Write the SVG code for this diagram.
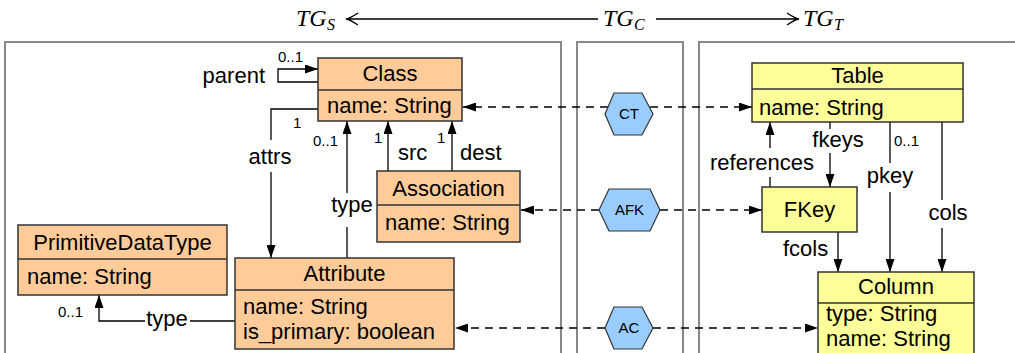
<svg xmlns="http://www.w3.org/2000/svg" width="1015" height="353" viewBox="0 0 1015 353">
<style>
text{font-family:"Liberation Sans",Arial,sans-serif;fill:#000}
.t{font-size:22px}
.s{font-size:15px}
.m{font-family:"Liberation Serif","Times New Roman",serif;font-style:italic;font-size:24px}
.ms{font-family:"Liberation Serif","Times New Roman",serif;font-style:italic;font-size:16px}
.c{text-anchor:middle}
.panel{fill:none;stroke:#888;stroke-width:2}
.src{fill:#FFCC99;stroke:#333;stroke-width:1.5}
.tgt{fill:#FFFF99;stroke:#333;stroke-width:1.5}
.hex{fill:#99CCFF;stroke:#333;stroke-width:1.2}
.ln{fill:none;stroke:#000;stroke-width:1.3}
.ds{fill:none;stroke:#000;stroke-width:1.3;stroke-dasharray:8,6}
</style>
<defs>
<marker id="ah" viewBox="0 0 13 9" refX="13" refY="4.5" markerWidth="13" markerHeight="9" markerUnits="userSpaceOnUse" orient="auto">
<path d="M0,0 L13,4.5 L0,9 z" fill="#000"/>
</marker>
</defs>

<g id="header">
<text class="m" x="296" y="26">TG</text><text class="ms" x="327" y="30">S</text>
<text class="m" x="603" y="26">TG</text><text class="ms" x="634" y="30">C</text>
<text class="m" x="803" y="26">TG</text><text class="ms" x="834" y="30">T</text>
<path class="ln" d="M598,19 H347 M358,13 C352,17 349,18.5 346,19 C349,19.5 352,21 358,25"/>
<path class="ln" d="M656,19 H798 M787,13 C793,17 796,18.5 799,19 C796,19.5 793,21 787,25"/>
</g>

<g id="panels">
<path class="panel" d="M5,360 V42 H561 V360"/>
<path class="panel" d="M577,360 V42 H683 V360"/>
<path class="panel" d="M699,360 V42 H1020"/>
</g>

<g id="connectors">
<path class="ln" d="M318,82 H278 V69 H318" marker-end="url(#ah)"/>
<path class="ln" d="M318,109 H271 V140"/>
<path class="ln" d="M271,172 V258" marker-end="url(#ah)"/>
<path class="ln" d="M347,258 V227"/>
<path class="ln" d="M347,193 V121" marker-end="url(#ah)"/>
<path class="ln" d="M388,171 V121" marker-end="url(#ah)"/>
<path class="ln" d="M452,171 V121" marker-end="url(#ah)"/>
<path class="ln" d="M235,321 H190"/>
<path class="ln" d="M145,321 H99 V295" marker-end="url(#ah)"/>
<path class="ln" d="M770,187 V177"/>
<path class="ln" d="M770,148 V122" marker-end="url(#ah)"/>
<path class="ln" d="M830,122 V129"/>
<path class="ln" d="M830,153 V187" marker-end="url(#ah)"/>
<path class="ln" d="M890,122 V163"/>
<path class="ln" d="M890,192 V272" marker-end="url(#ah)"/>
<path class="ln" d="M942,122 V200"/>
<path class="ln" d="M942,228 V272" marker-end="url(#ah)"/>
<path class="ln" d="M838,232 V272" marker-end="url(#ah)"/>
<path class="ds" d="M608,107 H463" marker-end="url(#ah)"/>
<path class="ds" d="M650,107 H752" marker-end="url(#ah)"/>
<path class="ds" d="M599,210 H521" marker-end="url(#ah)"/>
<path class="ds" d="M660,210 H762" marker-end="url(#ah)"/>
<path class="ds" d="M605,328 H455" marker-end="url(#ah)"/>
<path class="ds" d="M653,328 H818" marker-end="url(#ah)"/>
<text class="s" x="278" y="62">0..1</text>
<text class="t" x="265" y="83" text-anchor="end">parent</text>
<text class="s" x="293" y="128">1</text>
<text class="t c" x="270" y="164">attrs</text>
<text class="s" x="313" y="146">0..1</text>
<text class="t c" x="352" y="212">type</text>
<text class="s" x="374" y="143">1</text>
<text class="s" x="437" y="143">1</text>
<text class="t" x="398" y="160">src</text>
<text class="t" x="460" y="160">dest</text>
<text class="s" x="58" y="317">0..1</text>
<text class="t c" x="167" y="326">type</text>
<text class="t c" x="762" y="170">references</text>
<text class="t c" x="838" y="147">fkeys</text>
<text class="s" x="894" y="146">0..1</text>
<text class="t c" x="890" y="183">pkey</text>
<text class="t c" x="948" y="220">cols</text>
<text class="t" x="783" y="256">fcols</text>
</g>

<g id="Class">
<rect class="src" x="318" y="58" width="144" height="63"/>
<line x1="318" y1="90" x2="462" y2="90" stroke="#333" stroke-width="1.5"/>
<text class="t c" x="390" y="81">Class</text>
<text class="t" x="327" y="113">name: String</text>
</g>

<g id="Association">
<rect class="src" x="377" y="171" width="143" height="71"/>
<line x1="377" y1="205" x2="520" y2="205" stroke="#333" stroke-width="1.5"/>
<text class="t c" x="448.5" y="196">Association</text>
<text class="t" x="385" y="230">name: String</text>
</g>

<g id="Attribute">
<rect class="src" x="235" y="258" width="219" height="91"/>
<line x1="235" y1="290" x2="454" y2="290" stroke="#333" stroke-width="1.5"/>
<text class="t c" x="344.5" y="281">Attribute</text>
<text class="t" x="243" y="314">name: String</text>
<text class="t" x="243" y="339">is_primary: boolean</text>
</g>

<g id="PrimitiveDataType">
<rect class="src" x="18" y="225" width="209" height="70"/>
<line x1="18" y1="259" x2="227" y2="259" stroke="#333" stroke-width="1.5"/>
<text class="t c" x="122.5" y="250">PrimitiveDataType</text>
<text class="t" x="27" y="284">name: String</text>
</g>

<g id="CT">
<polygon class="hex" points="605,114 614,93 642,93 653,114 642,135 614,135"/>
<text class="s c" x="629" y="119">CT</text>
</g>
<g id="AFK">
<polygon class="hex" points="599,210 609,189 650,189 660,210 650,231 609,231"/>
<text class="s c" x="629.5" y="215">AFK</text>
</g>
<g id="AC">
<polygon class="hex" points="605,328 614,307 642,307 653,328 642,349 614,349"/>
<text class="s c" x="629" y="333">AC</text>
</g>

<g id="Table">
<rect class="tgt" x="752" y="63" width="211" height="59"/>
<line x1="752" y1="89" x2="963" y2="89" stroke="#333" stroke-width="1.5"/>
<text class="t c" x="857.5" y="83">Table</text>
<text class="t" x="759" y="115">name: String</text>
</g>

<g id="FKey">
<rect class="tgt" x="762" y="187" width="95" height="45"/>
<text class="t c" x="809.5" y="217">FKey</text>
</g>

<g id="Column">
<rect class="tgt" x="818" y="272" width="156" height="90"/>
<line x1="818" y1="303" x2="974" y2="303" stroke="#333" stroke-width="1.5"/>
<text class="t c" x="896" y="294">Column</text>
<text class="t" x="826" y="321">type: String</text>
<text class="t" x="826" y="346">name: String</text>
</g>
</svg>
